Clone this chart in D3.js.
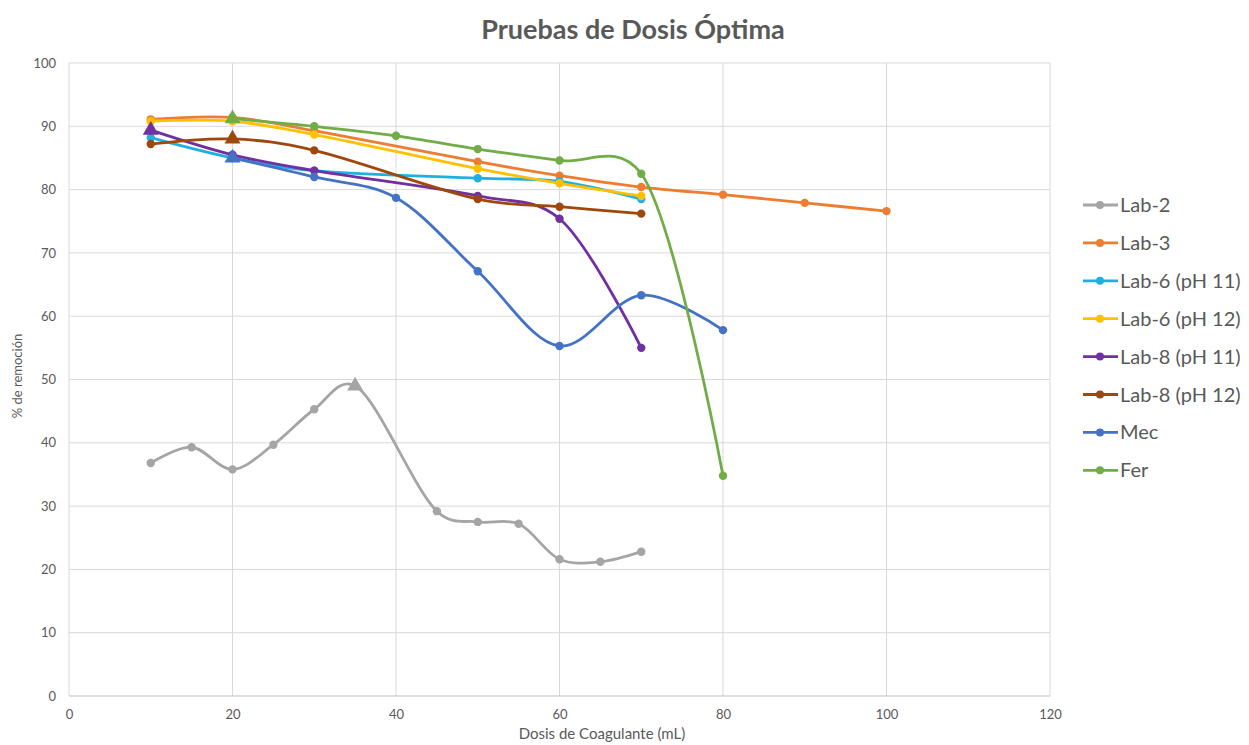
<!DOCTYPE html>
<html>
<head>
<meta charset="utf-8">
<script src="https://cdn.jsdelivr.net/npm/d3@7"></script>
<style>
  body { margin: 0; background: #fff; }
  svg { font-family: Lato, "Open Sans", sans-serif; display: block; }
  .grid line { stroke: #d9d9d9; stroke-width: 1; }
</style>
</head>
<body>
<svg id="chart"></svg>
<script>
// data
var seriesNames = ['Lab-2', 'Lab-3', 'Lab-6 (pH 11)', 'Lab-6 (pH 12)', 'Lab-8 (pH 11)', 'Lab-8 (pH 12)', 'Mec', 'Fer'];
var colors = ['#a5a5a5', '#ed7d31', '#1fb0e3', '#ffc000', '#7030a0', '#9e480e', '#4472c4', '#70ad47'];

var lab2 = [[10,36.8],[15,39.3],[20,35.8],[25,39.7],[30,45.3],[35,49.0],[45,29.2],[50,27.5],[55,27.2],[60,21.6],[65,21.2],[70,22.8]];
var lab3 = [[10,91.1],[20,91.4],[30,89.3],[50,84.4],[60,82.2],[70,80.4],[80,79.2],[90,77.9],[100,76.6]];
var lab6ph11 = [[10,88.2],[20,85.0],[30,83.0],[50,81.8],[60,81.3],[70,78.5]];
var lab6ph12 = [[10,90.8],[20,90.8],[30,88.7],[50,83.3],[60,81.0],[70,79.0]];
var lab8ph11 = [[10,89.4],[20,85.5],[30,83.0],[50,79.0],[60,75.4],[70,55.0]];
var lab8ph12 = [[10,87.2],[20,88.0],[30,86.2],[50,78.5],[60,77.3],[70,76.2]];
var mec = [[20,85.0],[30,82.0],[40,78.7],[50,67.1],[60,55.3],[70,63.3],[80,57.8]];
var fer = [[20,91.2],[30,90.0],[40,88.5],[50,86.4],[60,84.6],[70,82.5],[80,34.8]];
var allSeries = [lab2, lab3, lab6ph11, lab6ph12, lab8ph11, lab8ph12, mec, fer];

// points drawn with a triangle marker (series index, dose)
var optimo = [[0,35],[4,10],[5,20],[6,20],[7,20]];

var xTicks = [0, 20, 40, 60, 80, 100, 120];
var yTicks = [0, 10, 20, 30, 40, 50, 60, 70, 80, 90, 100];

var width = 1249, height = 745;
var margin = {top: 63, right: 199, bottom: 49, left: 69};
var innerWidth = width - margin.left - margin.right;
var innerHeight = height - margin.top - margin.bottom;

var svg = d3.select('#chart').attr('width', width).attr('height', height);
var g = svg.append('g').attr('transform', 'translate(' + margin.left + ',' + margin.top + ')');

var xScale = d3.scaleLinear().domain([0, 120]).range([0, innerWidth]);
var yScale = d3.scaleLinear().domain([0, 100]).range([innerHeight, 0]);

// gridlines
g.append('g').attr('class', 'grid')
  .selectAll('line').data(yTicks.slice(1)).enter()
  .append('line')
    .attr('x1', 0).attr('x2', innerWidth)
    .attr('y1', function(d){ return yScale(d); })
    .attr('y2', function(d){ return yScale(d); });

g.append('g').attr('class', 'grid')
  .selectAll('line').data(xTicks).enter()
  .append('line')
    .attr('x1', function(d){ return xScale(d); })
    .attr('x2', function(d){ return xScale(d); })
    .attr('y1', 0).attr('y2', innerHeight);

g.append('line')
  .attr('x1', 0).attr('x2', innerWidth)
  .attr('y1', innerHeight).attr('y2', innerHeight)
  .attr('stroke', '#bfbfbf');

// axes (labels only)
function styleAxis(sel) {
  sel.attr('fill', null).attr('font-family', null).attr('font-size', null);
  sel.select('.domain').remove();
  sel.selectAll('.tick line').remove();
  sel.selectAll('text')
    .attr('fill', '#595959')
    .style('font-size', '13px');
}

g.append('g')
  .attr('transform', 'translate(0,' + innerHeight + ')')
  .call(d3.axisBottom(xScale).tickValues(xTicks).tickSize(0).tickPadding(14))
  .call(styleAxis);

g.append('g')
  .call(d3.axisLeft(yScale).tickValues(yTicks).tickSize(0).tickPadding(13))
  .call(styleAxis);

// lines
var line = d3.line()
  .x(function(d){ return xScale(d[0]); })
  .y(function(d){ return yScale(d[1]); })
  .curve(d3.curveCatmullRom.alpha(0.25));

allSeries.forEach(function(data, i){
  var s = g.append('g');
  s.append('path')
    .datum(data)
    .attr('fill', 'none')
    .attr('stroke', colors[i])
    .attr('stroke-width', 2.8)
    .attr('d', line);

  var isTri = function(d){
    return optimo.some(function(o){ return o[0] === i && o[1] === d[0]; });
  };

  s.selectAll('circle')
    .data(data.filter(function(d){ return !isTri(d); })).enter()
    .append('circle')
      .attr('cx', function(d){ return xScale(d[0]); })
      .attr('cy', function(d){ return yScale(d[1]); })
      .attr('r', 4.2)
      .attr('fill', colors[i]);

  s.selectAll('path.tri')
    .data(data.filter(isTri)).enter()
    .append('path')
      .attr('class', 'tri')
      .attr('d', d3.symbol().type(d3.symbolTriangle).size(110))
      .attr('transform', function(d){ return 'translate(' + xScale(d[0]) + ',' + yScale(d[1]) + ')'; })
      .attr('fill', colors[i]);
});

// titles
svg.append('text')
  .attr('x', 633).attr('y', 39)
  .attr('text-anchor', 'middle')
  .style('font-size', '27px').style('font-weight', 'bold').style('fill', '#595959')
  .text('Pruebas de Dosis Óptima');

svg.append('text')
  .attr('x', 602).attr('y', 739)
  .attr('text-anchor', 'middle')
  .style('font-size', '15px').style('fill', '#595959')
  .text('Dosis de Coagulante (mL)');

svg.append('text')
  .attr('transform', 'translate(22,' + 376 + ') rotate(-90)')
  .attr('text-anchor', 'middle')
  .style('font-size', '13px').style('fill', '#595959')
  .text('% de remoción');

// legend
var legend = svg.append('g').attr('transform', 'translate(1083,205)');
var items = legend.selectAll('g').data(seriesNames).enter()
  .append('g')
    .attr('transform', function(d, i){ return 'translate(0,' + (i * 37.9) + ')'; });

items.append('line')
  .attr('x1', 0).attr('x2', 35)
  .attr('stroke', function(d, i){ return colors[i]; })
  .attr('stroke-width', 2.8);
items.append('circle')
  .attr('cx', 17).attr('r', 4)
  .attr('fill', function(d, i){ return colors[i]; });
items.append('text')
  .attr('x', 37).attr('dy', '0.35em')
  .style('font-size', '20px').style('fill', '#595959')
  .text(function(d){ return d; });
</script>
</body>
</html>
